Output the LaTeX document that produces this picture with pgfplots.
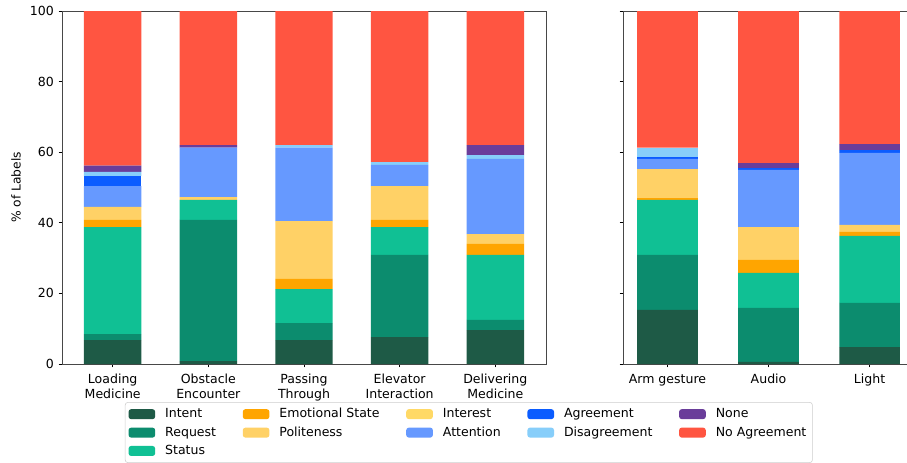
\documentclass[border=0pt]{standalone}
\usepackage{pgfplots}
\usepackage{pgfplotstable}
\pgfplotsset{compat=1.18}
\usepackage{fontspec}
\setmainfont{DejaVu Sans}

\definecolor{cIntent}{HTML}{1E5A46}
\definecolor{cRequest}{HTML}{0C8C6E}
\definecolor{cStatus}{HTML}{10C094}
\definecolor{cEmotional}{HTML}{FFA500}
\definecolor{cPoliteness}{HTML}{FFD166}
\definecolor{cInterest}{HTML}{FFD966}
\definecolor{cAttention}{HTML}{6699FF}
\definecolor{cAgreement}{HTML}{0B5CFF}
\definecolor{cDisagreement}{HTML}{87CEFA}
\definecolor{cNone}{HTML}{6A3D9A}
\definecolor{cNoAgreement}{HTML}{FF5541}

% share of labels per task (segment heights, stacked bottom to top)
\pgfplotstableread{
x Intent Request Status Emotional Politeness Interest Attention Agreement Disagreement None NoAgreement
0 6.8  1.7  30.3 2.0 3.7  0 5.9  2.9 1.1 1.8 43.8
1 0.85 39.95 5.7 0.0 0.8  0 14.0 0.0 0.0 0.7 38.0
2 6.8  4.8  9.6  2.9 16.4 0 20.8 0.0 0.7 0.0 38.0
3 7.6  23.3 7.9  2.0 9.6  0 6.0  0.0 0.8 0.0 42.8
4 9.6  2.9  18.4 3.1 2.8  0 21.3 0.0 1.1 2.8 38.0
}\tasktable

% share of labels per robot signal
\pgfplotstableread{
x Intent Request Status Emotional Politeness Interest Attention Agreement Disagreement None NoAgreement
0 15.3 15.6 15.6 0.5 8.2 0 2.9  0.5 2.7 0.0 38.7
1 0.6  15.3 9.9  3.7 9.3 0 16.2 0.5 0.0 1.4 43.1
2 4.8  12.5 19.0 1.1 2.0 0 20.4 0.8 0.0 1.7 37.7
}\signaltable

\pgfplotsset{
  sq legend/.style={legend image code/.code={\fill[##1] (0pt,-3.75pt) rectangle (20pt,3.75pt);}},
  common/.style={
    scale only axis, height=264.75pt,
    ybar stacked, ymin=0, ymax=100,
    ytick={0,20,...,100},
    tick align=outside, major tick length=2.6pt,
    tick style={black, line width=0.6pt},
    axis line style={black!72, line width=0.6pt},
    /pgf/number format/assume math mode=true,
    tick label style={font=\fontsize{9.4}{11.25}\selectfont},
    label style={font=\fontsize{9.2}{11.25}\selectfont},
    xticklabel style={align=center, yshift=-1.5pt},
  },
}

\newcommand{\stackbars}[1]{%
  \addplot[fill=cIntent, draw=none] table[x=x, y=Intent]{#1};
  \addplot[fill=cRequest, draw=none] table[x=x, y=Request]{#1};
  \addplot[fill=cStatus, draw=none] table[x=x, y=Status]{#1};
  \addplot[fill=cEmotional, draw=none] table[x=x, y=Emotional]{#1};
  \addplot[fill=cPoliteness, draw=none] table[x=x, y=Politeness]{#1};
  \addplot[fill=cInterest, draw=none] table[x=x, y=Interest]{#1};
  \addplot[fill=cAttention, draw=none] table[x=x, y=Attention]{#1};
  \addplot[fill=cAgreement, draw=none] table[x=x, y=Agreement]{#1};
  \addplot[fill=cDisagreement, draw=none] table[x=x, y=Disagreement]{#1};
  \addplot[fill=cNone, draw=none] table[x=x, y=None]{#1};
  \addplot[fill=cNoAgreement, draw=none] table[x=x, y=NoAgreement]{#1};
}

\begin{document}
\begin{tikzpicture}
\useasboundingbox (0pt,0pt) rectangle (680.25pt,346.5pt);

\begin{axis}[
  common,
  at={(46.5pt,73.5pt)}, anchor=south west,
  width=363pt,
  bar width=0.6,
  xmin=-0.53, xmax=4.53,
  xtick={0,...,4},
  xticklabels={{Loading\\Medicine},{Obstacle\\Encounter},{Passing\\Through},{Elevator\\Interaction},{Delivering\\Medicine}},
  xtick pos=left, ytick pos=left,
  ylabel={\% of Labels},
  legend columns=5,
  legend cell align=left,
  legend style={
    at={(axis description cs:0.130,-0.108)}, anchor=north west,
    draw=black!20, rounded corners=2pt,
    font=\fontsize{9.4}{11.25}\selectfont,
    inner xsep=2.5pt, inner ysep=2.5pt,
    row sep=1.2pt,
    /tikz/every even column/.append style={column sep=18pt},
    /tikz/every odd column/.append style={column sep=5.5pt},
  },
]
% legend entries, listed row by row
\addlegendimage{sq legend, fill=cIntent, draw=none}
\addlegendimage{sq legend, fill=cEmotional, draw=none}
\addlegendimage{sq legend, fill=cInterest, draw=none}
\addlegendimage{sq legend, fill=cAgreement, draw=none}
\addlegendimage{sq legend, fill=cNone, draw=none}
\addlegendimage{sq legend, fill=cRequest, draw=none}
\addlegendimage{sq legend, fill=cPoliteness, draw=none}
\addlegendimage{sq legend, fill=cAttention, draw=none}
\addlegendimage{sq legend, fill=cDisagreement, draw=none}
\addlegendimage{sq legend, fill=cNoAgreement, draw=none}
\addlegendimage{sq legend, fill=cStatus, draw=none}
\legend{Intent, Emotional State, Interest, Agreement, None,
        Request, Politeness, Attention, Disagreement, No Agreement,
        Status}
\stackbars{\tasktable}
\end{axis}

\begin{axis}[
  common,
  at={(467.25pt,73.5pt)}, anchor=south west,
  width=213pt,
  bar width=0.6,
  xmin=-0.44, xmax=2.37,
  xtick={0,1,2},
  xticklabels={Arm gesture, Audio, Light},
  separate axis lines,
  axis x line*=box, axis y line*=left,
  every outer x axis line/.append style={-},
  every outer y axis line/.append style={-},
  xtick pos=left, ytick pos=left,
  yticklabels={},
]
\stackbars{\signaltable}
\end{axis}
\end{tikzpicture}
\end{document}
